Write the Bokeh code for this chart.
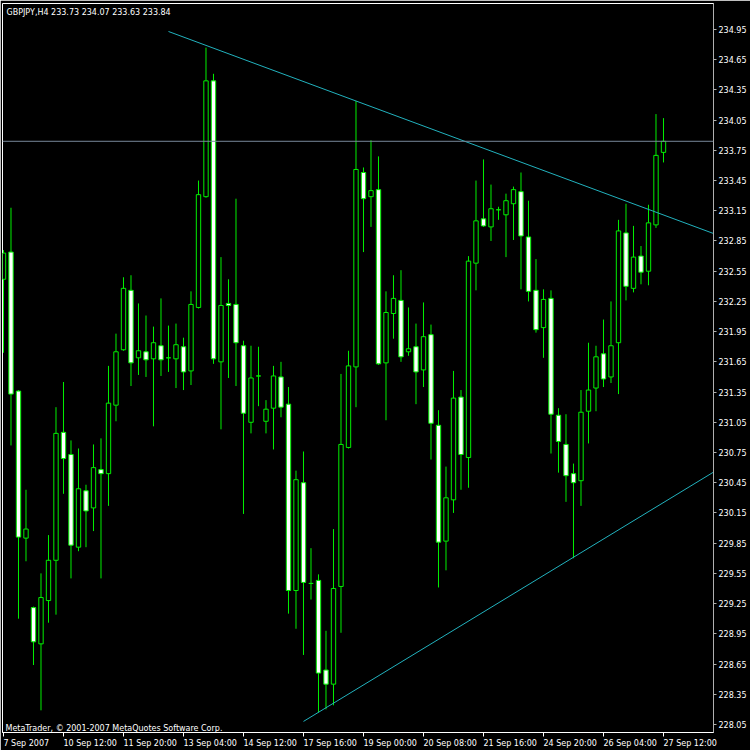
from bokeh.plotting import figure
from bokeh.models import (ColumnDataSource, FixedTicker, Range1d, Label, Span,
                          NumeralTickFormatter)
from bokeh.embed import file_html
from bokeh.resources import INLINE

# ---- GBPJPY H4 bars (oldest first) ----
opens = [232.47, 232.74, 231.36, 229.90, 229.21, 228.85, 229.28, 229.68, 230.95, 230.73,
         229.81, 230.37, 230.20, 230.58, 230.54, 231.22, 231.77, 232.36, 231.69, 231.75,
         231.68, 231.81, 231.69, 231.68, 231.80, 231.56, 232.19, 233.29, 234.44, 231.65,
         232.23, 232.22, 231.81, 231.05, 231.51, 231.06, 231.19, 231.50, 231.23, 229.38,
         230.45, 229.45, 229.48, 228.59, 228.45, 229.42, 230.80, 231.60, 233.53, 233.29,
         233.36, 231.64, 232.13, 232.26, 231.75, 231.80, 231.57, 231.92, 231.02, 229.87,
         230.28, 231.30, 230.70, 232.63, 233.07, 232.99, 233.16, 233.11, 233.22, 233.34,
         232.89, 232.36, 231.99, 232.28, 231.12, 230.83, 230.54, 230.47, 231.16, 231.39,
         231.73, 231.50, 231.84, 232.93, 232.38, 232.70, 232.55, 233.01, 233.73]
highs = [232.76, 233.18, 231.37, 230.38, 229.22, 229.55, 229.93, 231.20, 231.45, 230.87,
         230.79, 230.43, 230.83, 230.89, 231.61, 231.93, 232.49, 232.51, 232.23, 232.11,
         232.00, 232.28, 232.01, 232.03, 231.89, 232.35, 233.45, 234.77, 234.51, 232.69,
         232.47, 233.27, 231.86, 231.81, 231.80, 231.27, 231.61, 231.65, 231.40, 230.57,
         230.76, 229.80, 229.54, 228.98, 229.99, 231.53, 231.76, 234.24, 233.58, 233.85,
         233.69, 232.35, 232.51, 232.56, 232.19, 232.03, 232.24, 232.02, 231.17, 230.61,
         231.56, 231.37, 232.70, 233.45, 233.66, 233.41, 233.19, 233.32, 233.39, 233.53,
         233.25, 232.67, 232.37, 232.36, 231.19, 231.13, 230.64, 231.37, 231.84, 231.81,
         232.07, 232.25, 233.06, 233.22, 233.00, 232.80, 233.21, 234.11, 234.07]
lows = [231.74, 230.82, 229.10, 229.67, 228.64, 228.19, 229.06, 229.14, 230.34, 229.50,
        229.77, 229.81, 229.97, 229.50, 230.22, 231.06, 231.76, 231.41, 231.52, 231.50,
        231.01, 231.51, 231.55, 231.39, 231.37, 231.42, 232.18, 233.28, 231.63, 230.98,
        231.49, 231.41, 230.14, 230.94, 231.21, 230.94, 230.78, 231.10, 229.15, 229.00,
        228.74, 229.29, 228.17, 228.20, 228.24, 228.96, 230.79, 231.20, 232.74, 232.99,
        231.62, 231.07, 231.88, 231.65, 231.71, 231.23, 231.40, 230.68, 229.41, 229.58,
        230.15, 230.38, 230.40, 232.36, 232.99, 232.85, 233.06, 232.69, 232.86, 232.37,
        232.25, 231.94, 231.69, 230.74, 230.55, 230.26, 229.70, 230.22, 230.84, 231.16,
        231.40, 231.44, 231.33, 232.26, 232.34, 232.42, 232.41, 232.98, 233.63]
closes = [232.73, 231.33, 229.91, 229.99, 228.87, 229.31, 229.68, 230.94, 230.69, 229.83,
          230.39, 230.17, 230.60, 230.54, 231.24, 231.75, 232.38, 231.64, 231.76, 231.67,
          231.84, 231.67, 231.69, 231.82, 231.55, 232.22, 233.31, 234.44, 231.68, 232.21,
          232.21, 231.84, 231.14, 231.49, 231.51, 231.18, 231.51, 231.20, 229.38, 230.48,
          229.46, 229.45, 228.56, 228.45, 229.40, 230.83, 231.61, 233.56, 233.27, 233.35,
          231.63, 232.14, 232.28, 231.70, 231.78, 231.55, 231.90, 231.04, 229.86, 230.30,
          231.29, 230.73, 232.65, 233.05, 233.00, 233.17, 233.16, 233.25, 233.36, 232.90,
          232.35, 231.97, 232.27, 231.13, 230.86, 230.52, 230.45, 231.15, 231.37, 231.70,
          231.48, 231.81, 232.95, 232.40, 232.69, 232.54, 233.03, 233.70, 233.84]

# time axis labels (every 8th bar)
time_tick_bars = [0, 8, 16, 24, 32, 40, 48, 56, 64, 72, 80, 88]
time_tick_labels = ["7 Sep 2007", "10 Sep 12:00", "11 Sep 20:00", "13 Sep 04:00",
                    "14 Sep 12:00", "17 Sep 16:00", "19 Sep 00:00", "20 Sep 08:00",
                    "21 Sep 16:00", "24 Sep 20:00", "26 Sep 04:00", "27 Sep 12:00"]

# price scale
price_ticks = [234.95, 234.65, 234.35, 234.05, 233.75, 233.45, 233.15, 232.85, 232.55,
               232.25, 231.95, 231.65, 231.35, 231.05, 230.75, 230.45, 230.15, 229.85,
               229.55, 229.25, 228.95, 228.65, 228.35, 228.05]

# trend lines: two anchor points each (bar index, price), drawn as rays
upper_trend_bars = [22, 47]
upper_trend_prices = [234.93, 234.24]
lower_trend_bars = [40, 76]
lower_trend_prices = [228.08, 229.71]

last_bid = 233.84
header = "GBPJPY,H4  233.73 234.07 233.63 233.84"

# ---- layout constants ----
W, H = 750, 750
BAR_PX = 7.5
X0, X1 = -0.133, 94.667
Y0, Y1 = 227.97, 235.208
FONT = "DejaVu Sans"
FS = 8
FSIZE = f"{FS}px"
GREEN = "#00f000"
TREND = "#22b2be"

n = len(opens)
idx = list(range(n))
up = [c >= o for o, c in zip(opens, closes)]
src = ColumnDataSource(dict(
    x=idx, high=highs, low=lows,
    top=[max(o, c) for o, c in zip(opens, closes)],
    bottom=[min(o, c) for o, c in zip(opens, closes)],
    fill=["black" if u else "white" for u in up],
))

p = figure(width=W, height=H, output_backend="svg", toolbar_location=None,
           x_range=Range1d(X0, X1), y_range=Range1d(Y0, Y1),
           y_axis_location="right", min_border_left=2, min_border_top=3,
           min_border_right=37, min_border_bottom=17)
p.background_fill_color = "black"
p.border_fill_color = "black"
p.outline_line_color = "white"
p.grid.visible = False

# wicks then bodies
p.segment(x0="x", y0="high", x1="x", y1="low", source=src, line_color=GREEN, line_width=1)
p.vbar(x="x", top="top", bottom="bottom", width=0.58, source=src,
       fill_color="fill", line_color=GREEN, line_width=1)

# trend line rays
def ray(bars, prices):
    slope = (prices[1] - prices[0]) / (bars[1] - bars[0])
    return [bars[0], X1], [prices[0], prices[0] + slope * (X1 - bars[0])]

ux, uy = ray(upper_trend_bars, upper_trend_prices)
lx, ly = ray(lower_trend_bars, lower_trend_prices)
p.line(ux, uy, line_color=TREND, line_width=1)
p.line(lx, ly, line_color=TREND, line_width=1)

# bid line
p.add_layout(Span(location=last_bid, dimension="width", line_color="#778899", line_width=1))

# price axis (right)
ya = p.yaxis[0]
ya.ticker = FixedTicker(ticks=price_ticks, minor_ticks=[])
ya.formatter = NumeralTickFormatter(format="0.00")
ya.axis_line_color = "#b0b0b0"
ya.major_tick_line_color = "#b0b0b0"
ya.major_tick_out = 3
ya.major_tick_in = 0
ya.minor_tick_line_color = None
ya.major_label_standoff = 2
ya.major_label_text_color = "white"
ya.major_label_text_font = FONT
ya.major_label_text_font_size = FSIZE

# time axis (below): text starts at the tick, so centre each label to its right
def text_em(s):
    widths = {" ": 0.318, ":": 0.337, "S": 0.635, "e": 0.615, "p": 0.635}
    return sum(widths.get(ch, 0.636) for ch in s)

centers = [b + text_em(t) * FS / 2 / BAR_PX for b, t in zip(time_tick_bars, time_tick_labels)]
xa = p.xaxis[0]
xa.ticker = FixedTicker(ticks=centers, minor_ticks=time_tick_bars)
xa.major_label_overrides = {c: t for c, t in zip(centers, time_tick_labels)}
xa.axis_line_color = "white"
xa.major_tick_line_color = None
xa.major_tick_out = 3
xa.major_tick_in = 0
xa.minor_tick_line_color = "white"
xa.minor_tick_out = 4
xa.minor_tick_in = 0
xa.major_label_standoff = 2
xa.major_label_text_color = "white"
xa.major_label_text_font = FONT
xa.major_label_text_font_size = FSIZE

# header and copyright texts
p.add_layout(Label(x=4, y=720, x_units="screen", y_units="screen", text=header,
                   text_color="white", text_font=FONT, text_font_size=FSIZE,
                   text_baseline="alphabetic"))
p.add_layout(Label(x=3, y=4, x_units="screen", y_units="screen",
                   text="MetaTrader, \u00a9 2001-2007 MetaQuotes Software Corp.",
                   text_color="white", text_font=FONT, text_font_size=FSIZE,
                   text_baseline="alphabetic"))

# last price tag on the price scale
p.add_layout(Label(x=X1 + 0.3, y=last_bid, text=f"{last_bid:.2f}",
                   text_color="black", text_font=FONT, text_font_size=FSIZE,
                   text_baseline="middle", text_align="left",
                   background_fill_color="white", padding=2))

open("out.html", "w").write(file_html(p, INLINE))
